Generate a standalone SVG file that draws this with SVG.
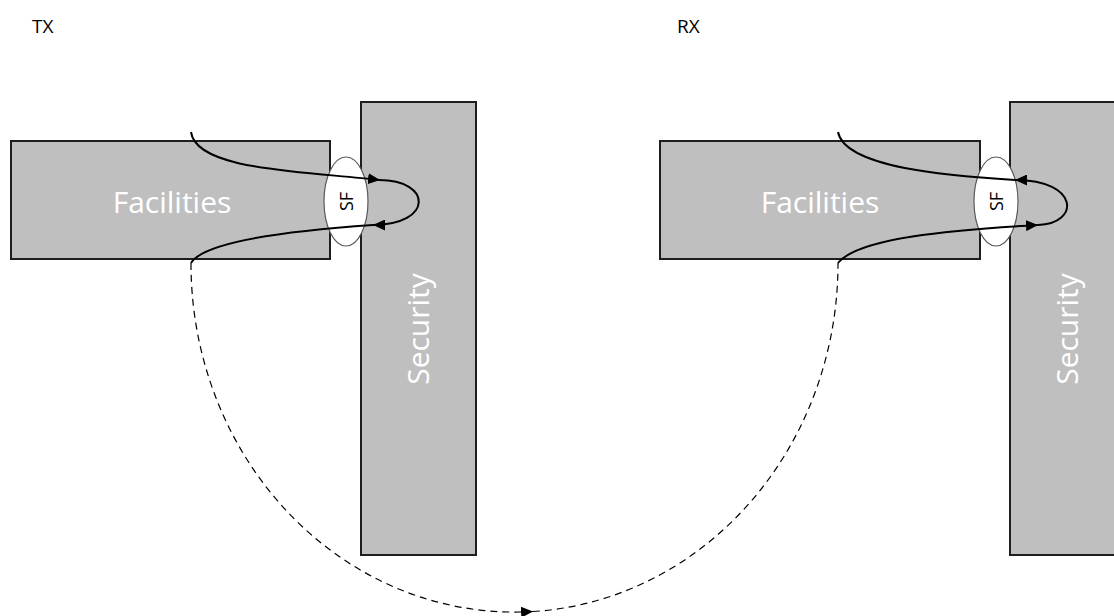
<svg xmlns="http://www.w3.org/2000/svg" width="1114" height="616" viewBox="0 0 1114 616">
  <style>
    .block { fill: #bfbfbf; stroke: #1e1e1e; stroke-width: 2; }
    .sf { fill: #ffffff; stroke: #595959; stroke-width: 1.2; }
    .lbl { font-family: "Open Sans", "Liberation Sans", sans-serif; fill: #ffffff; text-anchor: middle; font-size: 30px; }
    .sft { font-family: "Open Sans", "Liberation Sans", sans-serif; fill: #000000; text-anchor: middle; font-size: 18px; }
    .hdr { font-family: "Open Sans", "Liberation Sans", sans-serif; font-size: 19px; fill: #000000; }
    .flow { fill: none; stroke: #000000; stroke-width: 2; }
    .link { fill: none; stroke: #000000; stroke-width: 1.2; stroke-dasharray: 7 5; }
  </style>
  <defs>
    <marker id="arrow" viewBox="0 0 12 11" refX="12" refY="5.5" markerWidth="12" markerHeight="11" markerUnits="userSpaceOnUse" orient="auto">
      <path d="M0,0 L12,5.5 L0,11 Z" fill="#000000"/>
    </marker>
  </defs>

  <text class="hdr" x="32" y="33">TX</text>
  <text class="hdr" x="677" y="33">RX</text>

  <!-- transmitter side -->
  <g id="tx-security">
    <rect class="block" x="361" y="102" width="115" height="453"/>
    <text class="lbl" transform="translate(429,329) rotate(-90)">Security</text>
  </g>
  <g id="tx-facilities">
    <rect class="block" x="11" y="141" width="319" height="118"/>
    <text class="lbl" x="172" y="213">Facilities</text>
  </g>
  <g id="tx-sf">
    <ellipse class="sf" cx="346" cy="201.5" rx="22" ry="44.5"/>
    <text class="sft" transform="translate(352.5,201.5) rotate(-90)">SF</text>
  </g>

  <!-- receiver side -->
  <g id="rx-security">
    <rect class="block" x="1010" y="102" width="120" height="453"/>
    <text class="lbl" transform="translate(1078,329) rotate(-90)">Security</text>
  </g>
  <g id="rx-facilities">
    <rect class="block" x="660" y="141" width="320" height="118"/>
    <text class="lbl" x="820" y="213">Facilities</text>
  </g>
  <g id="rx-sf">
    <ellipse class="sf" cx="996" cy="201.5" rx="22" ry="44.5"/>
    <text class="sft" transform="translate(1002.5,201.5) rotate(-90)">SF</text>
  </g>

  <g id="connectors">
    <!-- TX: down through SF and back up -->
    <path class="flow" d="M191,132 C196,170 300,171 380,180" marker-end="url(#arrow)"/>
    <path class="flow" d="M379,180 C433,180 433,225 373,225" marker-end="url(#arrow)"/>
    <path class="flow" d="M373,225 C300,230 205,240 191,263"/>
    <!-- over the air -->
    <path class="link" d="M191,263 A323.5,348.5 0 0 0 533,611.5" marker-end="url(#arrow)"/>
    <path class="link" d="M533,611.5 A323.5,348.5 0 0 0 838,263"/>
    <!-- RX: up through SF and back out -->
    <path class="flow" d="M838,263 C858,238 950,230 1038,225" marker-end="url(#arrow)"/>
    <path class="flow" d="M1038,225 C1080,224 1080,180 1015,180" marker-end="url(#arrow)"/>
    <path class="flow" d="M1015,180 C950,176 845,168 838,132"/>
  </g>
</svg>
